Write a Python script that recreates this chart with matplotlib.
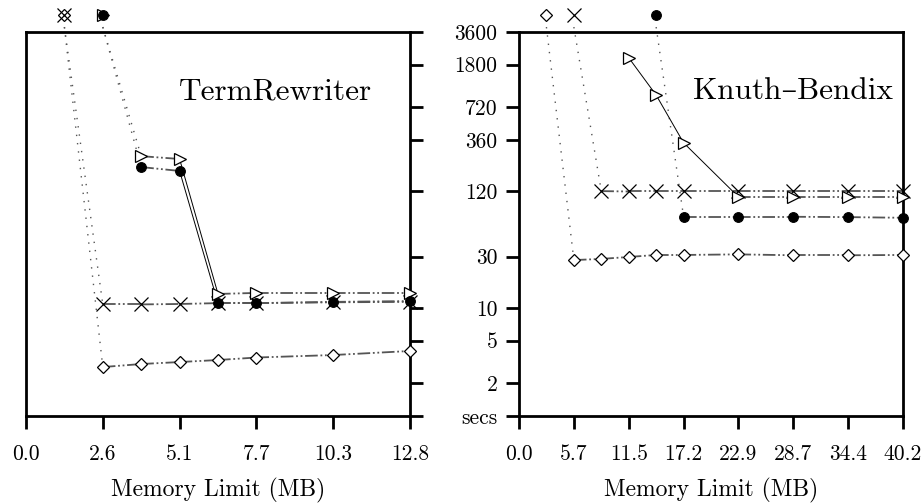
import matplotlib
matplotlib.use("Agg")
import matplotlib.pyplot as plt
import numpy as np

plt.rcParams['font.family'] = ['cmr10', 'DejaVu Serif']
plt.rcParams['axes.unicode_minus'] = False

# ---------------- data ----------------
# TermRewriter (left)
tr_xticks = [0.0, 2.56, 5.12, 7.68, 10.24, 12.8]
tr_xticklabels = ["0.0", "2.6", "5.1", "7.7", "10.3", "12.8"]
tr_diamond_x = [2.56, 3.84, 5.12, 6.4, 7.68, 10.24, 12.8]
tr_diamond_y = [2.84, 3.03, 3.16, 3.3, 3.48, 3.67, 4.0]
tr_cross_x = [2.56, 3.84, 5.12, 6.4, 7.68, 10.24, 12.8]
tr_cross_y = [10.8, 10.8, 10.9, 11.1, 11.1, 11.3, 11.4]
tr_circle_x = [3.84, 5.12, 6.4, 7.68, 10.24, 12.8]
tr_circle_y = [202, 186, 11.1, 11.1, 11.4, 11.6]
tr_tri_x = [3.84, 5.12, 6.4, 7.68, 10.24, 12.8]
tr_tri_y = [255, 240, 13.5, 13.8, 13.8, 13.8]
# memory limits at which the run did not finish (drawn above the plot)
tr_dnf_diamond_x = 1.28
tr_dnf_cross_x = 1.28
tr_dnf_circle_x = 2.56
tr_dnf_tri_x = 2.56

# Knuth-Bendix (right)
kb_xticks = [0.0, 5.743, 11.486, 17.229, 22.971, 28.714, 34.457, 40.2]
kb_xticklabels = ["0.0", "5.7", "11.5", "17.2", "22.9", "28.7", "34.4", "40.2"]
kb_diamond_x = [5.743, 8.614, 11.486, 14.357, 17.229, 22.971, 28.714, 34.457, 40.2]
kb_diamond_y = [27.8, 28.5, 29.7, 31.0, 31.0, 31.4, 30.8, 30.8, 31.0]
kb_cross_x = [8.614, 11.486, 14.357, 17.229, 22.971, 28.714, 34.457, 40.2]
kb_cross_y = [121, 120, 120, 120, 120, 120, 120, 120]
kb_circle_x = [17.229, 22.971, 28.714, 34.457, 40.2]
kb_circle_y = [70, 70, 70, 69.5, 68.5]
kb_tri_x = [11.486, 14.357, 17.229, 22.971, 28.714, 34.457, 40.2]
kb_tri_y = [2080, 938, 339, 107, 107, 107, 107]
kb_dnf_diamond_x = 2.871
kb_dnf_cross_x = 5.743
kb_dnf_circle_x = 14.357

ytick_vals = [1, 2, 5, 10, 30, 120, 360, 720, 1800, 3600]
ytick_labels = ["secs", "2", "5", "10", "30", "120", "360", "720", "1800", "3600"]
YMIN, YMAX = 1, 3600
DNF_Y = 5200      # off-scale value used for runs that did not finish
DNF_LINE_Y = 4000

# ---------------- styles ----------------
styles = {
    'diamond': dict(marker='D', ms=6, mfc='white', mec='black', mew=0.9),
    'cross':   dict(marker='x', ms=10, mec='black', mew=0.9),
    'circle':  dict(marker='o', ms=7, mfc='black', mec='black', mew=0.8),
    'tri':     dict(marker='>', ms=9, mfc='white', mec='black', mew=0.9),
}
zorders = {'diamond': 3, 'cross': 3, 'tri': 3, 'circle': 4}
DASH = (0, (7, 1.5, 1, 1.5, 1, 1.5))


def draw_series(ax, xs, ys, kind, dnf_x=None):
    st = styles[kind]
    # connecting segments
    for i in range(len(xs) - 1):
        r = abs(np.log10(ys[i + 1]) - np.log10(ys[i]))
        if r > 0.3:
            ax.plot(xs[i:i + 2], ys[i:i + 2], color='black', lw=0.7,
                    ls='-', zorder=2, clip_on=False)
        else:
            ax.plot(xs[i:i + 2], ys[i:i + 2], color='#555555', lw=1.3,
                    ls=DASH, zorder=2, clip_on=False)
    ax.plot(xs, ys, ls='none', zorder=zorders[kind], clip_on=False, **st)
    if dnf_x is not None:
        ax.plot([dnf_x, xs[0]], [DNF_LINE_Y, ys[0]], color='#555555', lw=1.0,
                ls=(0, (1, 5)), zorder=1, clip_on=False)
        ax.plot([dnf_x], [DNF_Y], ls='none', zorder=zorders[kind],
                clip_on=False, **st)


fig = plt.figure(figsize=(9.24, 5.03), dpi=100)
W, H = 924.0, 503.0
ax1 = fig.add_axes([26 / W, 1 - 416 / H, 384 / W, 384 / H])
ax2 = fig.add_axes([519 / W, 1 - 416 / H, 384 / W, 384 / H])

for ax in (ax1, ax2):
    ax.set_yscale('log')
    ax.set_ylim(YMIN, YMAX)
    for s in ax.spines.values():
        s.set_linewidth(2.0)
    ax.minorticks_off()
    ax.set_xlabel("Memory Limit (MB)", fontsize=17, labelpad=10)
    ax.tick_params(axis='x', direction='out', length=9.5, width=2.0,
                   labelsize=15.5, pad=11)
    ax.tick_params(axis='y', which='both', direction='out', length=9.5,
                   width=2.0, labelsize=15.5, pad=6)
    ax.set_yticks(ytick_vals)
    ax.yaxis.set_minor_locator(matplotlib.ticker.NullLocator())

# left panel
ax1.set_xlim(0, 12.8)
ax1.set_xticks(tr_xticks)
ax1.set_xticklabels(tr_xticklabels)
ax1.yaxis.tick_right()
ax1.set_yticklabels([])
ax1.tick_params(axis='y', which='both', left=False, right=True,
                labelleft=False, labelright=False)
draw_series(ax1, tr_diamond_x, tr_diamond_y, 'diamond', tr_dnf_diamond_x)
draw_series(ax1, tr_cross_x, tr_cross_y, 'cross', tr_dnf_cross_x)
draw_series(ax1, tr_circle_x, tr_circle_y, 'circle', tr_dnf_circle_x)
draw_series(ax1, tr_tri_x, tr_tri_y, 'tri', tr_dnf_tri_x)
ax1.text(0.901, 0.845, "TermRewriter", transform=ax1.transAxes,
         ha='right', va='center', fontsize=22.5)

# right panel
ax2.set_xlim(0, 40.2)
ax2.set_xticks(kb_xticks)
ax2.set_xticklabels(kb_xticklabels)
ax2.set_yticklabels(ytick_labels)
draw_series(ax2, kb_diamond_x, kb_diamond_y, 'diamond', kb_dnf_diamond_x)
draw_series(ax2, kb_cross_x, kb_cross_y, 'cross', kb_dnf_cross_x)
draw_series(ax2, kb_circle_x, kb_circle_y, 'circle', kb_dnf_circle_x)
draw_series(ax2, kb_tri_x, kb_tri_y, 'tri')
ax2.text(0.974, 0.845, "Knuth\u2013Bendix", transform=ax2.transAxes,
         ha='right', va='center', fontsize=22.5)

fig.savefig("out.png", dpi=100)
